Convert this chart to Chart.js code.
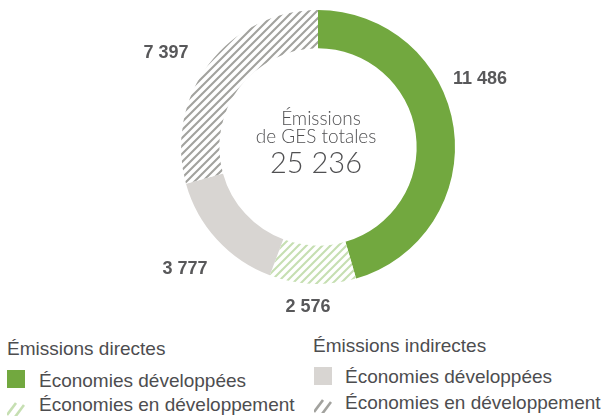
<!DOCTYPE html>
<html><head><meta charset="utf-8">
<script src="https://cdn.jsdelivr.net/npm/chart.js@4/dist/chart.umd.min.js"></script>
<style>
html,body{margin:0;padding:0;background:#fff;}
#wrap{position:relative;width:602px;height:419px;overflow:hidden;font-family:"Liberation Sans",Arial,sans-serif;color:#4d4d4f;}
#cv{position:absolute;left:0;top:0;}
.t{position:absolute;font-size:19px;line-height:19px;white-space:nowrap;}
.sw{position:absolute;width:18px;height:18px;}
</style></head>
<body><div id="wrap"><div id="cc" style="position:absolute;left:0;top:0;width:602px;height:330px;"><canvas id="cv"></canvas></div></div>
<script>
const categories = ["Émissions directes – Économies développées","Émissions directes – Économies en développement","Émissions indirectes – Économies développées","Émissions indirectes – Économies en développement"];
const values = [11486, 2576, 3777, 7397];
const valueLabels = ["11 486","2 576","3 777","7 397"];
const centerLines = ["Émissions","de GES totales","25 236"];
const legendGroups = ["Émissions directes","Émissions indirectes"];
const legendItems = ["Économies développées","Économies en développement"];

function hatch(color){
  const s=8;
  const c=document.createElement('canvas');c.width=s;c.height=s;
  const x=c.getContext('2d');x.fillStyle='#fff';x.fillRect(0,0,s,s);
  x.strokeStyle=color;x.lineWidth=2.1;
  x.beginPath();
  x.moveTo(-1,s+1);x.lineTo(s+1,-1);
  x.moveTo(-s/2-1,s/2+1);x.lineTo(s/2+1,-s/2-1);
  x.moveTo(s/2-1,s*1.5+1);x.lineTo(s*1.5+1,s/2-1);
  x.stroke();
  return x.createPattern(c,'repeat');
}
const ctx0=document.getElementById('cv').getContext('2d');
const colors=['#72a83f',hatch('#c6dfb2'),'#d8d5d2',hatch('#a2a29e')];

// label offsets relative to arc centre (dx,dy)
const labelOffsets=[[162,-68],[-10,160],[-133,122],[-152,-94]];

const labelPlugin={id:'lbl',afterDatasetsDraw(chart){
  const c=chart.ctx;const meta=chart.getDatasetMeta(0);
  const a0=meta.data[0];const cx=a0.x, cy=a0.y;
  c.save();
  c.fillStyle='#58585a';c.font='bold 18px "Liberation Sans", Arial, sans-serif';
  c.textAlign='center';c.textBaseline='middle';
  valueLabels.forEach((t,i)=>{c.fillText(t,cx+labelOffsets[i][0],cy+labelOffsets[i][1]);});
  c.fillStyle='#505052';
  c.font='300 19px Lato, sans-serif';c.textBaseline='alphabetic';
  c.fillText(centerLines[0],cx+3,cy-22);
  c.fillText(centerLines[1],cx-2,cy-4);
  c.font='300 29px Lato, sans-serif';
  c.fillText(centerLines[2],cx-2,cy+26);
  c.restore();
}};

new Chart(ctx0,{type:'doughnut',
 data:{labels:categories,datasets:[{data:values,backgroundColor:colors,borderWidth:0,hoverOffset:0}]},
 options:{responsive:true,maintainAspectRatio:false,animation:false,cutout:'72%',rotation:0,
  layout:{padding:{left:181,right:147,top:10,bottom:46}},
  plugins:{legend:{display:false},tooltip:{enabled:false}}},
 plugins:[labelPlugin]});

// HTML legend
const wrap=document.getElementById('wrap');
function txt(s,l,t){const d=document.createElement('div');d.className='t';d.textContent=s;d.style.left=l+'px';d.style.top=t+'px';wrap.appendChild(d);}
function sq(col,l,t){const d=document.createElement('div');d.className='sw';d.style.background=col;d.style.left=l+'px';d.style.top=t+'px';wrap.appendChild(d);}
function hs(col,l,t){const d=document.createElement('div');d.className='sw';d.style.left=l+'px';d.style.top=t+'px';
 d.innerHTML='<svg width="18" height="18"><g stroke="'+col+'" stroke-width="2.6"><line x1="0" y1="17" x2="9" y2="5"/><line x1="8" y1="19" x2="17" y2="7"/></g></svg>';wrap.appendChild(d);}
txt(legendGroups[0],7,339);
sq('#72a83f',7,370);txt(legendItems[0],39,371);
hs('#c6dfb2',7,398);txt(legendItems[1],39,395);
txt(legendGroups[1],313,336);
sq('#d8d5d2',314,367);txt(legendItems[0],345,367);
hs('#a2a29e',314,395);txt(legendItems[1],345,393);
</script></body></html>
